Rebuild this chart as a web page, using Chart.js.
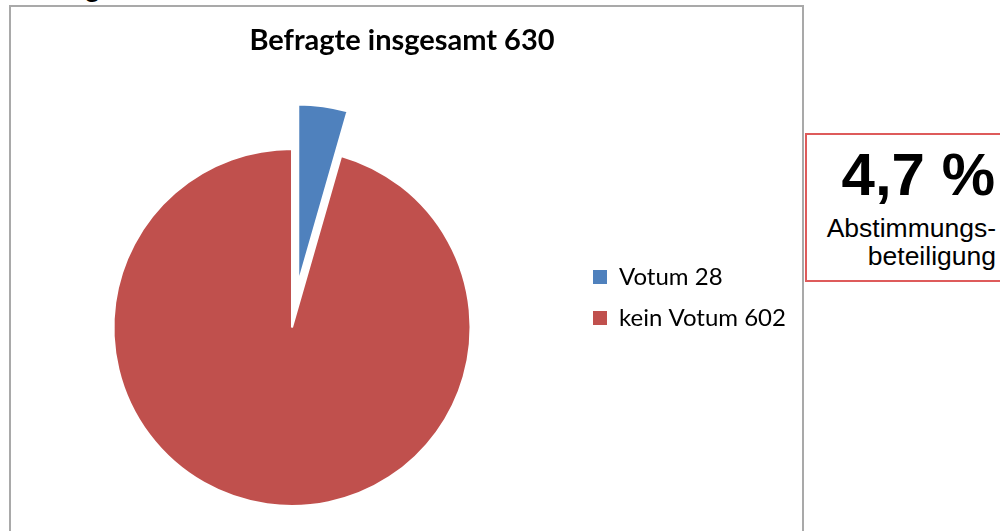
<!DOCTYPE html>
<html><head><meta charset="utf-8">
<script src="https://cdn.jsdelivr.net/npm/chart.js@4.4.1/dist/chart.umd.min.js"></script>
<style>
html,body{margin:0;padding:0;background:#fff;}
body{width:1000px;height:531px;overflow:hidden;position:relative;}
#frame{position:absolute;left:9px;top:5px;width:795px;height:600px;border:2px solid #a9a9a9;box-sizing:border-box;}
#chartwrap{position:absolute;left:0;top:0;width:803px;height:531px;}
#cut{position:absolute;left:84px;top:-27px;font:bold 28px/28px "Liberation Sans",Arial,sans-serif;color:#000;}
#box{position:absolute;left:805px;top:133px;width:220px;height:149px;border:2px solid #de5b5b;box-sizing:border-box;}
#pct{position:absolute;right:5px;top:145px;font:bold 60px/60px "Liberation Sans",Arial,sans-serif;color:#000;text-align:right;white-space:nowrap;}
#lbl{position:absolute;right:4px;top:214px;font:26.5px/28px "Liberation Sans",Arial,sans-serif;color:#000;text-align:right;white-space:nowrap;}
</style></head>
<body>
<div id="cut">g</div>
<div id="frame"></div>
<div id="chartwrap"><canvas id="c" width="803" height="531"></canvas></div>
<div id="box"></div>
<div id="pct">4,7 %</div>
<div id="lbl">Abstimmungs-<br>beteiligung</div>
<script>
const categories = ['Votum 28', 'kein Votum 602'];
const votes = [28, 602];
const chartTitle = 'Befragte insgesamt 630';

// Draw each arc element of the library, pulled out along its own bisector
const explodePlugin = {
  id: 'explode',
  beforeDatasetDraw(chart, args, opts) {
    const ctx = chart.ctx;
    const dist = opts.distances || [];
    args.meta.data.forEach((arc, i) => {
      const d = dist[i] || 0;
      const mid = (arc.startAngle + arc.endAngle) / 2;
      ctx.save();
      ctx.translate(Math.cos(mid) * d, Math.sin(mid) * d);
      arc.draw(ctx, chart.chartArea);
      ctx.restore();
    });
    return false;
  }
};

const ctx = document.getElementById('c').getContext('2d');
const baseLabels = Chart.overrides.doughnut.plugins.legend.labels.generateLabels;
const chart = new Chart(ctx, {
  type: 'pie',
  data: {
    labels: categories,
    datasets: [{
      data: votes,
      backgroundColor: ['#4F81BD', '#C0504D'],
      borderColor: '#ffffff',
      borderWidth: 2,
      hoverOffset: 0
    }]
  },
  plugins: [explodePlugin],
  options: {
    responsive: false,
    animation: false,
    events: [],
    layout: { padding: { left: 8, right: 4, top: 0, bottom: 24 } },
    plugins: {
      explode: { distances: [45, 0] },
      tooltip: { enabled: false },
      title: {
        display: true,
        text: chartTitle,
        color: '#000',
        font: { family: 'Lato', weight: 'bold', size: 29, lineHeight: 1.2 },
        padding: { top: 23, bottom: 90.2 }
      },
      legend: {
        position: 'right',
        align: 'start',
        fullSize: false,
        title: { display: true, text: '', font: { size: 12, lineHeight: 1 }, padding: { top: 0, bottom: 88 } },
        labels: {
          boxWidth: 14,
          boxHeight: 14,
          padding: 17,
          color: '#000',
          font: { family: 'Lato', size: 24 },
          generateLabels: (ch) => baseLabels(ch).map(l => Object.assign({}, l, { lineWidth: 0 }))
        }
      }
    }
  }
});
const diff = chart.chartArea.right - 576;
if (Math.abs(diff) > 0.5) {
  chart.options.layout.padding.right += diff;
  chart.update('none');
}
</script>
</body></html>
